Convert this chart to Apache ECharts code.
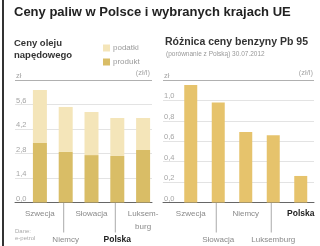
<!DOCTYPE html>
<html><head><meta charset="utf-8">
<script src="https://cdn.jsdelivr.net/npm/echarts@6/dist/echarts.min.js"></script>
<style>html,body{margin:0;padding:0;background:#fff}#c{width:320px;height:246px}</style>
</head><body><div id="c"></div>
<script>
// Left chart: diesel prices (zł/l)
const dieselCats = ['Szwecja','Niemcy','Słowacja','Polska','Luksemburg'];
const dieselProdukt = [3.40, 2.89, 2.71, 2.66, 3.00];
const dieselPodatki = [3.03, 2.57, 2.46, 2.17, 1.83];
const dieselTicks = {min: 0, max: 7, interval: 1.4};
// Right chart: Pb95 price difference (zł)
const petrolCats = ['Szwecja','Słowacja','Niemcy','Luksemburg','Polska'];
const petrolDiff = [1.15, 0.98, 0.69, 0.66, 0.26];
const petrolTicks = {min: 0, max: 1.2, interval: 0.2};

const FONT = 'Liberation Sans, Arial, sans-serif';
const chart = echarts.init(document.getElementById('c'), null, {renderer: 'canvas'});

function yLab(max) {
  return function (v) { return Math.abs(v - max) < 1e-6 ? 'zł' : v.toFixed(1).replace('.', ','); };
}
function makeCatFmt(breakLux) {
  return function (v, i) {
    let name;
    if (v === 'Luksemburg' && breakLux) name = '{a|Luksem-}\n{a|burg}';
    else if (v === 'Polska') name = '{p|Polska}';
    else name = '{a|' + v + '}';
    return i % 2 === 1 ? '{a| }\n{a| }\n' + name : name;
  };
}
const richLab = {
  a: {fontSize: 8, color: '#8a8a8a', lineHeight: 13, fontFamily: FONT},
  p: {fontSize: 8.5, color: '#222', fontWeight: 'bold', lineHeight: 13, fontFamily: FONT}
};
const gridLineColors = (n) => { const a = []; for (let i = 0; i < n - 1; i++) a.push('#e3e3e3'); a.push('#b0b0b0'); return a; };

function backdropY(idx, t, n) {
  return {type: 'value', gridIndex: idx, min: t.min, max: t.max, interval: t.interval,
    axisLine: {show: false}, axisTick: {show: false},
    splitLine: {lineStyle: {color: gridLineColors(n), width: 1}},
    axisLabel: {inside: true, margin: 1, verticalAlign: 'bottom', color: '#a5a5a5', fontSize: 7.5, fontFamily: FONT, formatter: yLab(t.max)}};
}
function backdropX(idx) {
  return {type: 'value', gridIndex: idx, min: 0, max: 1, axisLine: {show: true, lineStyle: {color: '#666', width: 1}},
    axisTick: {show: false}, axisLabel: {show: false}, splitLine: {show: false}};
}
function barY(idx, t) {
  return {type: 'value', gridIndex: idx, min: t.min, max: t.max, interval: t.interval, show: false, splitLine: {show: false}};
}
function barX(idx, cats, breakLux) {
  return {type: 'category', gridIndex: idx, data: cats, axisLine: {show: false}, axisTick: {show: false},
    axisLabel: {margin: 5, interval: 0, formatter: makeCatFmt(breakLux), rich: richLab}};
}
function grid(l, r) { return {left: l, right: r, top: 80, bottom: 43.5, outerBoundsMode: 'none', containLabel: false}; }

const option = {
  animation: false,
  textStyle: {fontFamily: FONT},
  legend: {data: ['podatki', 'produkt'], orient: 'vertical', left: 98, top: 39, itemWidth: 7, itemHeight: 7, itemGap: 6,
    icon: 'rect', textStyle: {fontSize: 8, color: '#9a9a9a', fontFamily: FONT, padding: [0, 0, 0, -2]}},
  grid: [grid(15, 168), grid(27, 164), grid(163, 6), grid(177, 5.5)],
  xAxis: [backdropX(0), barX(1, dieselCats, true), backdropX(2), barX(3, petrolCats, false)],
  yAxis: [backdropY(0, dieselTicks, 6), barY(1, dieselTicks), backdropY(2, petrolTicks, 7), barY(3, petrolTicks)],
  series: [
    {name: 'produkt', type: 'bar', xAxisIndex: 1, yAxisIndex: 1, stack: 'd', barWidth: 14, data: dieselProdukt, itemStyle: {color: '#d9bd66'}},
    {name: 'podatki', type: 'bar', xAxisIndex: 1, yAxisIndex: 1, stack: 'd', barWidth: 14, data: dieselPodatki, itemStyle: {color: '#f4e5b9'}},
    {name: 'roznica', type: 'bar', xAxisIndex: 3, yAxisIndex: 3, barWidth: 13, data: petrolDiff, itemStyle: {color: '#e6c36c'}}
  ]
};
chart.setOption(option);

const g = [
  {type: 'rect', shape: {x: 2, y: 0, width: 2, height: 246}, style: {fill: '#333'}},
  {type: 'text', left: 14, top: 6, style: {text: 'Ceny paliw w Polsce i wybranych krajach UE', font: 'bold 13px ' + FONT, fill: '#222'}},
  {type: 'text', left: 14, top: 37, style: {text: 'Ceny oleju\nnapędowego', font: 'bold 9.5px ' + FONT, fill: '#333', lineHeight: 12}},
  {type: 'text', left: 165, top: 37, style: {text: 'Różnica ceny benzyny Pb 95', font: 'bold 10.5px ' + FONT, fill: '#333'}},
  {type: 'text', left: 166, top: 51, style: {text: '(porównanie z Polską) 30.07.2012', font: '6.5px ' + FONT, fill: '#999'}},
  {type: 'text', x: 150, y: 69, style: {text: '(zł/l)', font: '7.5px ' + FONT, fill: '#a5a5a5', align: 'right'}},
  {type: 'text', x: 313, y: 69, style: {text: '(zł/l)', font: '7.5px ' + FONT, fill: '#a5a5a5', align: 'right'}},
  {type: 'text', left: 15, top: 228, style: {text: 'Dane:\ne-petrol', font: '6px ' + FONT, fill: '#aaa', lineHeight: 7}}
];
// connector lines for lower-row labels
[[1, dieselCats], [3, petrolCats]].forEach(function (pair) {
  pair[1].forEach(function (c, i) {
    if (i % 2 === 1) {
      const p = chart.convertToPixel({xAxisIndex: pair[0], yAxisIndex: pair[0]}, [c, 0]);
      g.push({type: 'line', shape: {x1: p[0] - 2, y1: p[1], x2: p[0] - 2, y2: p[1] + 30}, style: {stroke: '#aaa', lineWidth: 1}});
    }
  });
});
chart.setOption({graphic: g});
</script></body></html>
